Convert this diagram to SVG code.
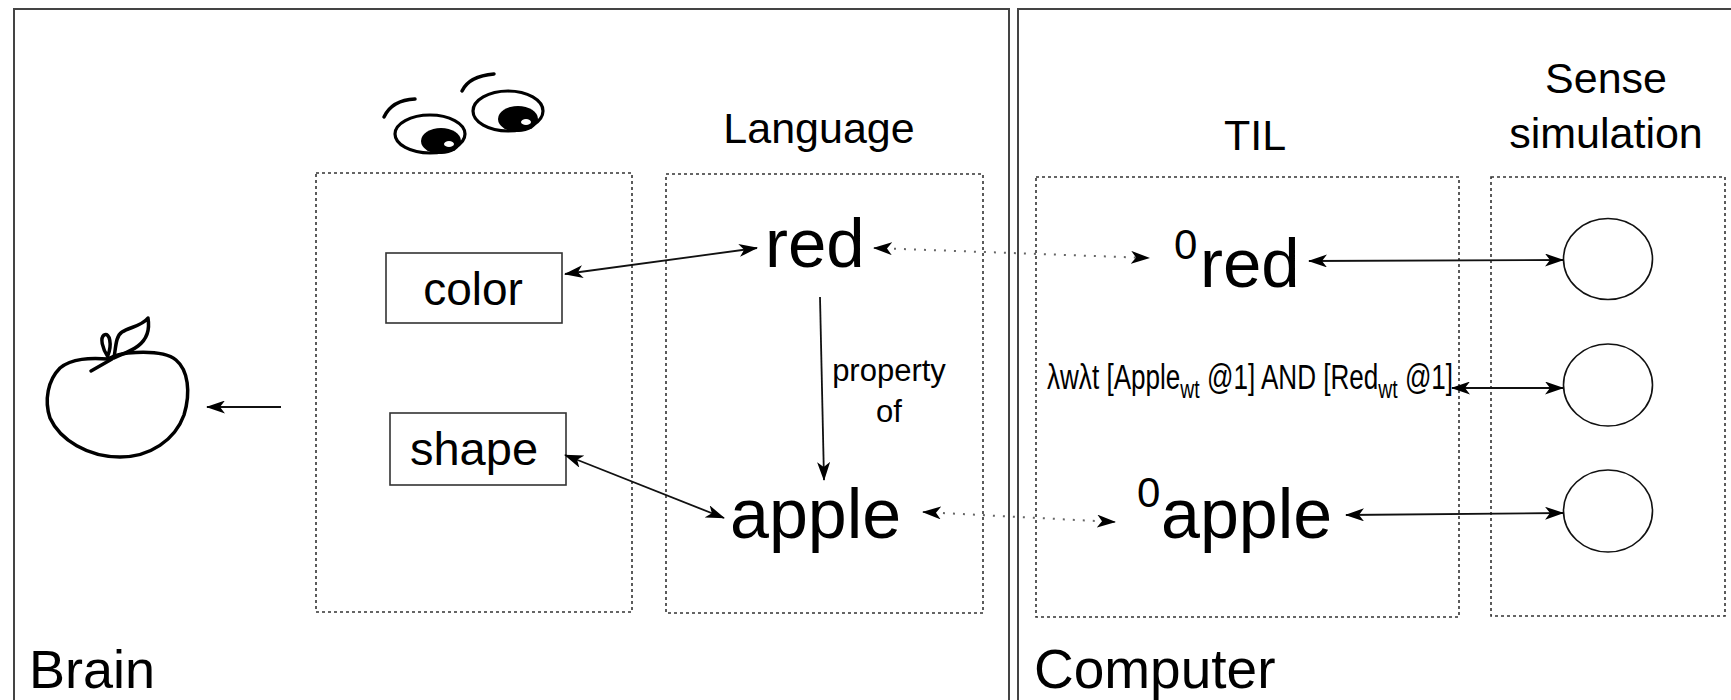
<svg xmlns="http://www.w3.org/2000/svg" width="1731" height="700" viewBox="0 0 1731 700">
<style>
  text { font-family: "Liberation Sans", Arial, Helvetica, sans-serif; fill: #000; }
  .frame { fill: none; stroke: #444; stroke-width: 2; }
  .dbox { fill: none; stroke: #333; stroke-width: 1.6; stroke-dasharray: 3 3; }
  .box { fill: #fff; stroke: #333; stroke-width: 1.6; }
  .sim { fill: #fff; stroke: #111; stroke-width: 1.6; }
  .solid { fill: none; stroke: #111; stroke-width: 1.8; }
  .dotted { fill: none; stroke: #666; stroke-width: 2; stroke-dasharray: 2 8; }
  .ink { fill: none; stroke: #000; stroke-width: 3.5; stroke-linecap: round; stroke-linejoin: round; }
</style>
<defs>
  <marker id="arr" viewBox="0 0 19 13" refX="18" refY="6.5" markerWidth="19" markerHeight="13" markerUnits="userSpaceOnUse" orient="auto-start-reverse">
    <path d="M0,0 L19,6.5 L0,13 L5,6.5 Z" fill="#000"/>
  </marker>
</defs>
<rect width="1731" height="700" fill="#fff"/>

<g id="brain-frame">
  <rect class="frame" x="14" y="9" width="995" height="720"/>
  <text x="29" y="688" font-size="54">Brain</text>
</g>
<g id="computer-frame">
  <rect class="frame" x="1018" y="9" width="740" height="720"/>
  <text x="1034" y="688" font-size="55">Computer</text>
</g>

<g id="apple-drawing">
  <path class="ink" stroke-width="3" d="M108,359 C90,358 72,358 60,368 C48,380 44,400 50,418 C60,440 88,457 120,457 C150,457 175,440 184,415 C191,392 188,370 176,360 C165,351 140,352 128,353 C118,354 112,357 108,359 Z"/>
  <path class="ink" stroke-width="3" d="M91,371 L112,359"/>
  <path class="ink" stroke-width="3" d="M108,357 C102,348 100,338 104,335 C110,332 112,345 108,355"/>
  <path class="ink" stroke-width="3" d="M114,358 C116,345 116,336 122,332 C130,327 142,326 148,318 C150,330 146,340 138,346 C130,352 122,354 114,358 Z"/>
</g>

<g id="eyes">
  <path class="ink" stroke-width="4" d="M384,117 Q392,100 415,99"/>
  <path class="ink" stroke-width="4" d="M462,91 Q469,76 494,74"/>
  <ellipse cx="430" cy="134" rx="35" ry="19" fill="#fff" stroke="#000" stroke-width="3.2"/>
  <ellipse cx="508" cy="111" rx="35" ry="20" fill="#fff" stroke="#000" stroke-width="3.2"/>
  <ellipse cx="441" cy="141" rx="20" ry="13" fill="#000"/>
  <ellipse cx="449" cy="144" rx="5" ry="3" fill="#fff"/>
  <ellipse cx="518" cy="119" rx="20" ry="13" fill="#000"/>
  <ellipse cx="526" cy="122" rx="5" ry="3" fill="#fff"/>
</g>

<g id="senses-area">
  <rect class="dbox" x="316" y="173" width="316" height="439"/>
</g>
<g id="language-area">
  <rect class="dbox" x="666" y="174" width="317" height="439"/>
  <text x="819" y="143" font-size="43" text-anchor="middle">Language</text>
</g>
<g id="til-area">
  <rect class="dbox" x="1036" y="177" width="423" height="440"/>
  <text x="1255" y="150" font-size="43" text-anchor="middle">TIL</text>
</g>
<g id="sense-sim-area">
  <rect class="dbox" x="1491" y="177" width="234" height="439"/>
  <text x="1606" y="93" font-size="43" text-anchor="middle">Sense</text>
  <text x="1606" y="148" font-size="43" text-anchor="middle">simulation</text>
</g>

<g id="color">
  <rect class="box" x="386" y="253" width="176" height="70"/>
  <text x="473" y="305" font-size="46" text-anchor="middle">color</text>
</g>
<g id="shape">
  <rect class="box" x="390" y="413" width="176" height="72"/>
  <text x="474" y="465" font-size="47" text-anchor="middle">shape</text>
</g>
<g id="red">
  <text x="765" y="267" font-size="69">red</text>
</g>
<g id="apple">
  <text x="730" y="538" font-size="70">apple</text>
</g>
<g id="til-red">
  <text x="1174" y="259" font-size="42">0</text>
  <text x="1200" y="287" font-size="69">red</text>
</g>
<g id="til-formula">
  <text transform="translate(1047,389) scale(0.745,1)" font-size="35">λwλt [Apple<tspan font-size="26" dy="9">wt</tspan><tspan dy="-9"> @1] AND [Red</tspan><tspan font-size="26" dy="9">wt</tspan><tspan dy="-9"> @1]</tspan></text>
</g>
<g id="til-apple">
  <text x="1137" y="507" font-size="42">0</text>
  <text x="1161" y="538" font-size="70">apple</text>
</g>
<g id="sim1"><ellipse class="sim" cx="1608" cy="259" rx="44.5" ry="40.5"/></g>
<g id="sim2"><ellipse class="sim" cx="1608" cy="385" rx="44.5" ry="41"/></g>
<g id="sim3"><ellipse class="sim" cx="1608" cy="511" rx="44.5" ry="41"/></g>

<g id="connectors">
  <line class="solid" stroke="#333" x1="281" y1="407" x2="207" y2="407" marker-end="url(#arr)"/>
  <line class="solid" x1="565" y1="274" x2="757" y2="248" marker-start="url(#arr)" marker-end="url(#arr)"/>
  <line class="solid" x1="565" y1="455" x2="724" y2="518" marker-start="url(#arr)" marker-end="url(#arr)"/>
  <line class="solid" x1="820" y1="297" x2="824" y2="480" marker-end="url(#arr)"/>
  <text x="889" y="381" font-size="31" text-anchor="middle">property</text>
  <text x="889" y="422" font-size="31" text-anchor="middle">of</text>
  <line class="dotted" x1="874" y1="248" x2="1149" y2="258" marker-start="url(#arr)" marker-end="url(#arr)"/>
  <line class="dotted" x1="923" y1="512" x2="1115" y2="522" marker-start="url(#arr)" marker-end="url(#arr)"/>
  <line class="solid" x1="1309" y1="261" x2="1563" y2="260" marker-start="url(#arr)" marker-end="url(#arr)"/>
  <line class="solid" x1="1452" y1="388" x2="1563" y2="388" marker-start="url(#arr)" marker-end="url(#arr)"/>
  <line class="solid" x1="1346" y1="515" x2="1563" y2="513" marker-start="url(#arr)" marker-end="url(#arr)"/>
</g>
</svg>
